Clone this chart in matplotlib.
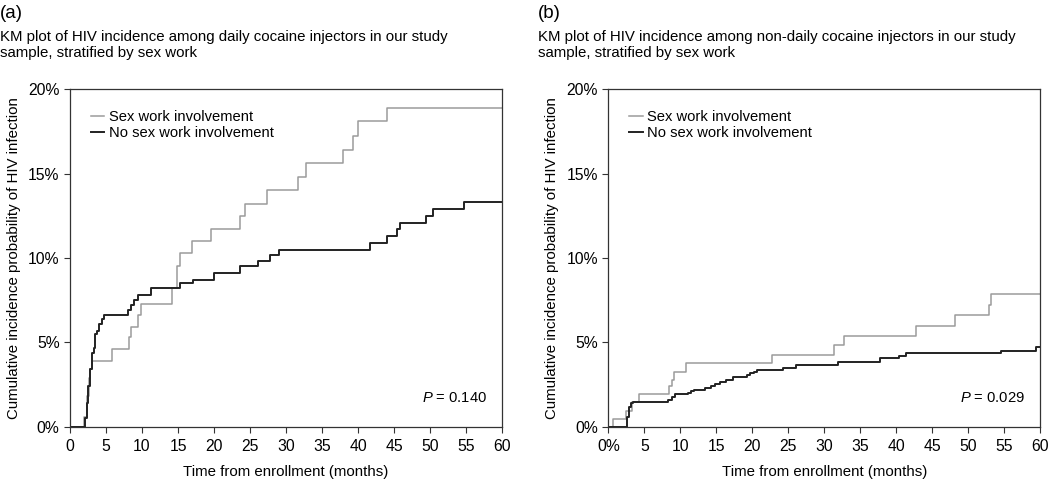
import matplotlib
matplotlib.use("Agg")
import matplotlib.pyplot as plt

plt.rcParams['font.family'] = ['Liberation Sans', 'DejaVu Sans']
plt.rcParams['mathtext.fontset'] = 'custom'
plt.rcParams['mathtext.it'] = 'Liberation Sans:italic'
plt.rcParams['mathtext.rm'] = 'Liberation Sans'

GREY = "#9b9b9b"
DARK = "#222222"

# panel (a): daily cocaine injectors, cumulative incidence (%)
a_sex_t = [0, 2.0, 2.4, 2.6, 2.8, 3.1, 5.8, 8.2, 8.4, 9.5, 9.9, 14.1, 14.8, 14.9, 15.3,
           17.0, 19.6, 23.6, 24.3, 27.4, 31.6, 32.8, 37.9, 39.3, 40.0, 44.0, 60]
a_sex_v = [0, 0.6, 1.8, 2.9, 3.4, 3.9, 4.6, 5.3, 5.9, 6.65, 7.3, 8.2, 8.8, 9.5, 10.3,
           11.0, 11.7, 12.5, 13.2, 14.0, 14.8, 15.6, 16.4, 17.2, 18.1, 18.9, 18.9]
a_nosex_t = [0, 2.1, 2.3, 2.55, 2.8, 3.05, 3.3, 3.5, 3.8, 4.05, 4.4, 4.65,
             8.1, 8.4, 8.9, 9.5, 11.2, 15.3, 17.1, 20.0, 23.6, 26.1, 27.7, 29.0,
             41.7, 44.0, 45.4, 45.8, 49.5, 50.4, 54.7, 60]
a_nosex_v = [0, 0.5, 1.4, 2.4, 3.4, 4.35, 4.65, 5.5, 5.7, 6.1, 6.4, 6.65,
             6.9, 7.2, 7.5, 7.8, 8.2, 8.5, 8.7, 9.1, 9.5, 9.8, 10.2, 10.5,
             10.9, 11.3, 11.7, 12.05, 12.5, 12.9, 13.3, 13.3]

# panel (b): non-daily cocaine injectors
b_sex_t = [0, 0.7, 2.5, 3.3, 4.3, 8.45, 8.8, 9.1, 10.8, 22.8, 31.4, 32.8, 42.7,
           48.1, 52.9, 53.2, 60]
b_sex_v = [0, 0.46, 0.95, 1.45, 1.92, 2.4, 2.8, 3.27, 3.77, 4.25, 4.85, 5.4, 6.0,
           6.6, 7.2, 7.85, 7.85]
b_nosex_t = [0, 2.55, 2.9, 3.15, 3.5, 8.3, 8.8, 9.25, 11.1, 11.5, 11.9, 13.4, 14.3,
             14.8, 15.5, 16.4, 17.3, 19.2, 19.7, 20.2, 20.6, 24.3, 26.1, 31.9, 37.7,
             40.4, 41.4, 54.6, 59.4, 60]
b_nosex_v = [0, 0.6, 1.2, 1.4, 1.5, 1.6, 1.75, 1.92, 2.0, 2.1, 2.2, 2.3, 2.4,
             2.55, 2.68, 2.8, 2.95, 3.07, 3.17, 3.26, 3.36, 3.46, 3.66, 3.86, 4.05,
             4.2, 4.35, 4.5, 4.7, 4.7]

x_ticks = list(range(0, 61, 5))
y_ticks = [0, 5, 10, 15, 20]
y_labels = ["0%", "5%", "10%", "15%", "20%"]
a_xlabels = [str(t) for t in x_ticks]
b_xlabels = ["0%"] + [str(t) for t in x_ticks[1:]]

panels = [
    ("(a)", "KM plot of HIV incidence among daily cocaine injectors in our study\nsample, stratified by sex work",
     a_sex_t, a_sex_v, a_nosex_t, a_nosex_v, a_xlabels, "0.140", 0.0667),
    ("(b)", "KM plot of HIV incidence among non-daily cocaine injectors in our study\nsample, stratified by sex work",
     b_sex_t, b_sex_v, b_nosex_t, b_nosex_v, b_xlabels, "0.029", 0.5793),
]

fig = plt.figure(figsize=(10.5, 4.84), dpi=100)

for tag, title, st, sv, nt, nv, xlabels, pval, left in panels:
    ax = fig.add_axes([left, 0.118, 0.4115, 0.698])
    ax.step(st, sv, where="post", color=GREY, lw=1.1, label="Sex work involvement")
    ax.step(nt, nv, where="post", color=DARK, lw=1.4, label="No sex work involvement")
    ax.set_xlim(0, 60)
    ax.set_ylim(0, 20)
    ax.set_xticks(x_ticks)
    ax.set_xticklabels(xlabels)
    ax.set_yticks(y_ticks)
    ax.set_yticklabels(y_labels)
    ax.tick_params(labelsize=11.3, length=4, width=0.8, color="#333333")
    ax.tick_params(axis="x", pad=5)
    for s in ax.spines.values():
        s.set_linewidth(0.9)
        s.set_color("#333333")
    ax.set_xlabel("Time from enrollment (months)", fontsize=10.8, labelpad=8)
    ax.set_ylabel("Cumulative incidence probability of HIV infection", fontsize=10.8, labelpad=5)
    ax.legend(loc="upper left", frameon=False, fontsize=10.6, handlelength=0.9,
              handletextpad=0.3, labelspacing=0.12, borderaxespad=0.0,
              bbox_to_anchor=(0.035, 0.955))
    ax.text(0.965, 0.085, r"$\it{P}$ = " + pval, transform=ax.transAxes,
            ha="right", va="center", fontsize=10.6)
    fx = left - 0.0667
    fig.text(fx, 0.973, tag, fontsize=13.5, ha="left", va="center")
    fig.text(fx, 0.907, title, fontsize=10.8, ha="left", va="center", linespacing=1.25)

fig.savefig("out.png", dpi=100)
